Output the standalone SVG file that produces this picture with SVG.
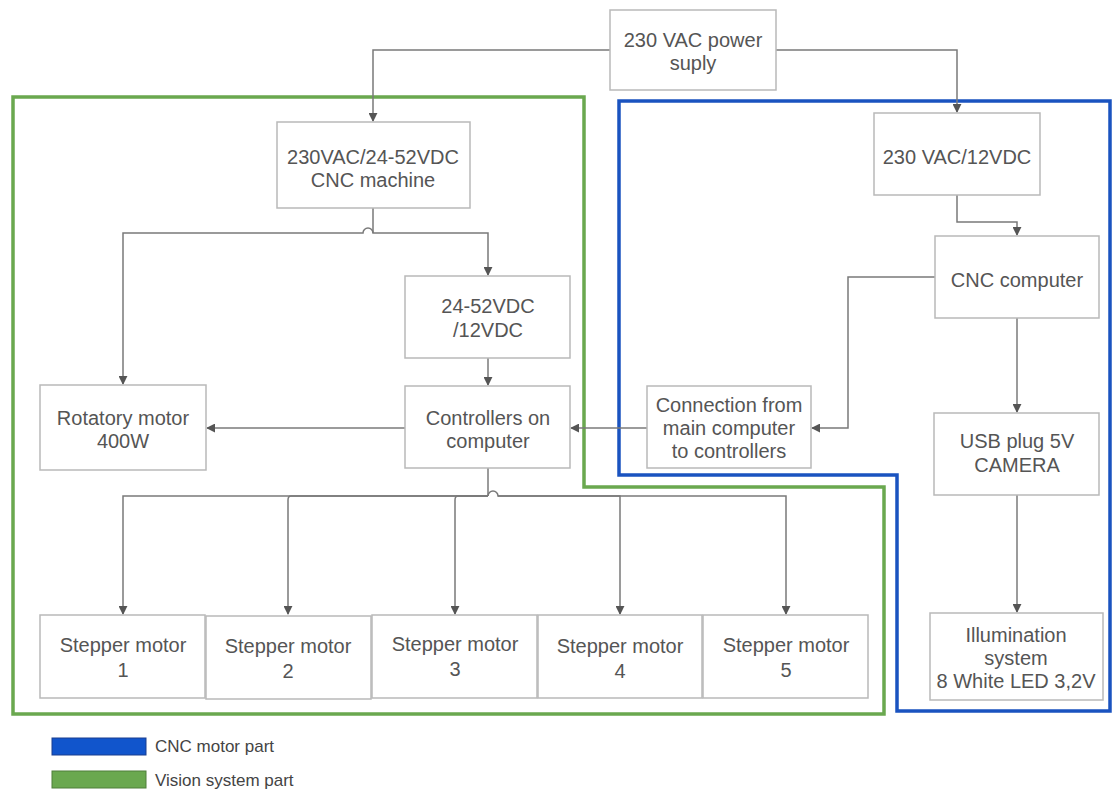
<svg xmlns="http://www.w3.org/2000/svg" width="1115" height="789" viewBox="0 0 1115 789">
<defs>
<marker id="arr" viewBox="0 0 10 10" refX="9" refY="5" markerWidth="9" markerHeight="9" markerUnits="userSpaceOnUse" orient="auto">
<path d="M0,0 L10,5 L0,10 Z" fill="#555"/>
</marker>
<style>
.box{fill:#fff;stroke:#b9b9b9;stroke-width:1.5}
.t{font-family:"Liberation Sans",Arial,sans-serif;font-size:20px;fill:#555;text-anchor:middle}
.lg{font-family:"Liberation Sans",Arial,sans-serif;font-size:17px;fill:#444}
.c{fill:none;stroke:#7a7a7a;stroke-width:1.5}
.ca{fill:none;stroke:#7a7a7a;stroke-width:1.5;marker-end:url(#arr)}
</style>
</defs>
<rect width="1115" height="789" fill="#fff"/>
<g id="regions">
<path d="M13,97 H584 V487 H884 V714 H13 Z" fill="none" stroke="#6aa84f" stroke-width="3.5"/>
<path d="M619,101 H1110 V711 H897 V475 H619 Z" fill="none" stroke="#1a53c0" stroke-width="3.5"/>
</g>
<g id="connectors">
<path class="ca" d="M610,50 H373 V121"/>
<path class="ca" d="M776,50 H957 V112"/>
<path class="ca" d="M957,195 V222 H1017 V235"/>
<path class="ca" d="M373,208 V233 H488 V275"/>
<path class="ca" d="M373,233 A5,5 0 0 0 363,233 H123 V384"/>
<path class="ca" d="M488,358 V385"/>
<path class="ca" d="M405,428 H207"/>
<path class="ca" d="M647,428 H571"/>
<path class="ca" d="M935,277 H848 V428 H812"/>
<path class="ca" d="M1017,318 V412"/>
<path class="ca" d="M1017,495 V612"/>
<path class="c" d="M488,468 V496"/>
<path class="ca" d="M488,496 H123 V614"/>
<path class="ca" d="M488,496 H291 Q288,496 288,500 V614"/>
<path class="ca" d="M488,496 H458 Q455,496 455,500 V614"/>
<path class="ca" d="M488,496 A5,5 0 0 1 498,496 H620 V614"/>
<path class="ca" d="M498,496 H786 V614"/>
</g>
<g id="power"><rect class="box" x="610" y="10" width="166" height="80"/><text class="t" x="693" y="47">230 VAC power</text><text class="t" x="693" y="70">suply</text></g>
<g id="cnc-machine"><rect class="box" x="277" y="122" width="193" height="86"/><text class="t" x="373" y="164">230VAC/24-52VDC</text><text class="t" x="373" y="187">CNC machine</text></g>
<g id="vac12"><rect class="box" x="874" y="113" width="166" height="82"/><text class="t" x="957" y="164">230 VAC/12VDC</text></g>
<g id="cnc-computer"><rect class="box" x="935" y="236" width="164" height="82"/><text class="t" x="1017" y="287">CNC computer</text></g>
<g id="dc12"><rect class="box" x="405" y="276" width="165" height="82"/><text class="t" x="488" y="313">24-52VDC</text><text class="t" x="488" y="337">/12VDC</text></g>
<g id="controllers"><rect class="box" x="405" y="386" width="165" height="82"/><text class="t" x="488" y="425">Controllers on</text><text class="t" x="488" y="448">computer</text></g>
<g id="rotatory"><rect class="box" x="40" y="385" width="166" height="85"/><text class="t" x="123" y="425">Rotatory motor</text><text class="t" x="123" y="448">400W</text></g>
<g id="connection"><rect class="box" x="647" y="386" width="164" height="82"/><text class="t" x="729" y="412">Connection from</text><text class="t" x="729" y="435">main computer</text><text class="t" x="729" y="458">to controllers</text></g>
<g id="usb"><rect class="box" x="934" y="413" width="165" height="82"/><text class="t" x="1017" y="448">USB plug 5V</text><text class="t" x="1017" y="472">CAMERA</text></g>
<g id="illumination"><rect class="box" x="930" y="613" width="173" height="87"/><text class="t" x="1016" y="642">Illumination</text><text class="t" x="1016" y="665">system</text><text class="t" x="1016" y="688">8 White LED 3,2V</text></g>
<g id="stepper1"><rect class="box" x="40" y="615" width="165" height="83"/><text class="t" x="123" y="652">Stepper motor</text><text class="t" x="123" y="677">1</text></g>
<g id="stepper2"><rect class="box" x="206" y="616" width="165" height="83"/><text class="t" x="288" y="653">Stepper motor</text><text class="t" x="288" y="678">2</text></g>
<g id="stepper3"><rect class="box" x="372" y="615" width="165" height="83"/><text class="t" x="455" y="651">Stepper motor</text><text class="t" x="455" y="676">3</text></g>
<g id="stepper4"><rect class="box" x="538" y="615" width="164" height="83"/><text class="t" x="620" y="653">Stepper motor</text><text class="t" x="620" y="678">4</text></g>
<g id="stepper5"><rect class="box" x="703" y="615" width="165" height="83"/><text class="t" x="786" y="652">Stepper motor</text><text class="t" x="786" y="677">5</text></g>
<g id="legend">
<rect x="52" y="738" width="94" height="17" fill="#1155cc" stroke="#1a3f8f" stroke-width="1"/>
<text class="lg" x="155" y="752">CNC motor part</text>
<rect x="52" y="771" width="94" height="17" fill="#6aa84f" stroke="#4f7f3a" stroke-width="1"/>
<text class="lg" x="155" y="786">Vision system part</text>
</g>
</svg>
